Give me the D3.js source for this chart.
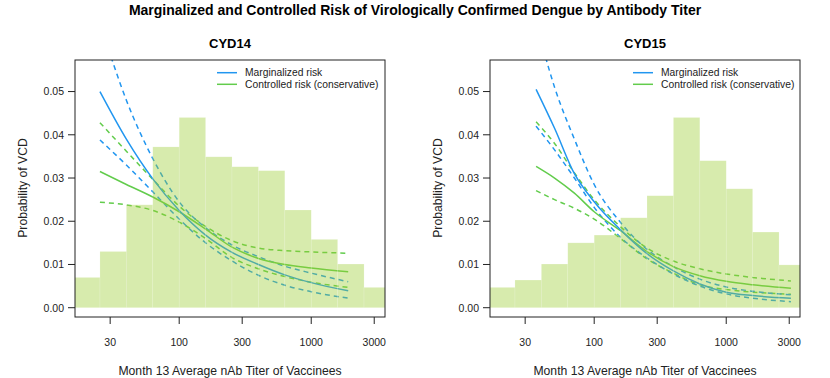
<!DOCTYPE html>
<head>
    <style>
        body { margin: 0; background: #fff; }
        svg { font-family: "Liberation Sans", Arial, sans-serif; }
    </style>
</head>
<body>
    <script src="https://cdn.jsdelivr.net/npm/d3@7"></script>
    <script>
        const w = 830, h = 378;

        // histogram bins (log10 titer edges) and scaled heights
        const binEdgesLog10 = [1.2, 1.4, 1.6, 1.8, 2.0, 2.2, 2.4, 2.6, 2.8, 3.0, 3.2, 3.4, 3.6];
        const histCYD14 = [0.0070, 0.0130, 0.0238, 0.0372, 0.0440, 0.0349, 0.0326, 0.0317, 0.0226, 0.0158, 0.0101, 0.0047];
        const histCYD15 = [0.0047, 0.0064, 0.0101, 0.0150, 0.0168, 0.0208, 0.0259, 0.0440, 0.0340, 0.0275, 0.0175, 0.0099];

        // CYD14 risk curves
        const titerCYD14 = [25.1, 39.8, 63.1, 100, 158.5, 251.2, 398.1, 631, 1000, 1905];
        const margCYD14 = [0.0500, 0.0390, 0.0298, 0.0225, 0.0168, 0.0128, 0.0100, 0.0076, 0.0058, 0.0039];
        const margLoCYD14 = [0.0388, 0.0330, 0.0268, 0.0205, 0.0150, 0.0108, 0.0075, 0.0052, 0.0037, 0.0022];
        const margHiCYD14 = [0.0660, 0.0480, 0.0345, 0.0245, 0.0185, 0.0145, 0.0118, 0.0096, 0.0080, 0.0060];
        const ctrlCYD14 = [0.0315, 0.0285, 0.0256, 0.0222, 0.0182, 0.0140, 0.0114, 0.0100, 0.0092, 0.0083];
        const ctrlLoCYD14 = [0.0244, 0.0238, 0.0225, 0.0198, 0.0160, 0.0116, 0.0090, 0.0072, 0.0059, 0.0047];
        const ctrlHiCYD14 = [0.0428, 0.0362, 0.0297, 0.0235, 0.0188, 0.0155, 0.0138, 0.0132, 0.0129, 0.0126];

        // CYD15 risk curves
        const titerCYD15 = [36.3, 50.1, 70.8, 100, 158.5, 251.2, 398.1, 631, 1000, 1585, 3090];
        const margCYD15 = [0.0505, 0.0415, 0.0310, 0.0245, 0.0180, 0.0125, 0.0085, 0.0055, 0.0036, 0.0028, 0.0022];
        const margLoCYD15 = [0.0420, 0.0365, 0.0300, 0.0232, 0.0163, 0.0115, 0.0078, 0.0050, 0.0032, 0.0022, 0.0014];
        const margHiCYD15 = [0.0660, 0.0510, 0.0390, 0.0285, 0.0197, 0.0135, 0.0095, 0.0066, 0.0048, 0.0038, 0.0030];
        const ctrlCYD15 = [0.0327, 0.0300, 0.0265, 0.0222, 0.0178, 0.0130, 0.0095, 0.0074, 0.0061, 0.0053, 0.0045];
        const ctrlLoCYD15 = [0.0271, 0.0250, 0.0230, 0.0205, 0.0160, 0.0113, 0.0080, 0.0053, 0.0042, 0.0036, 0.0031];
        const ctrlHiCYD15 = [0.0430, 0.0380, 0.0312, 0.0250, 0.0187, 0.0138, 0.0108, 0.0090, 0.0078, 0.0070, 0.0062];

        const xTicks = [30, 100, 300, 1000, 3000];
        const yTicks = [0, 0.01, 0.02, 0.03, 0.04, 0.05];
        const legendLabels = ['Marginalized risk', 'Controlled risk (conservative)'];

        const blue = '#2196f0', green = '#62cc4c';

        const svg = d3.select('body').append('svg')
            .attr('width', w).attr('height', h);

        svg.append('text')
            .attr('x', 415).attr('y', 15)
            .attr('text-anchor', 'middle')
            .style('font-size', '14px').style('font-weight', 'bold')
            .text('Marginalized and Controlled Risk of Virologically Confirmed Dengue by Antibody Titer');

        const panels = [
            { name: 'CYD14', left: 75, hist: histCYD14, titer: titerCYD14,
              lines: [ [ctrlLoCYD14, green, true], [ctrlHiCYD14, green, true], [margLoCYD14, blue, true], [margHiCYD14, blue, true],
                       [ctrlCYD14, green, false], [margCYD14, blue, false] ] },
            { name: 'CYD15', left: 490, hist: histCYD15, titer: titerCYD15,
              lines: [ [ctrlLoCYD15, green, true], [ctrlHiCYD15, green, true], [margLoCYD15, blue, true], [margHiCYD15, blue, true],
                       [ctrlCYD15, green, false], [margCYD15, blue, false] ] }
        ];

        const plotTop = 60, plotBottom = 317, pw = 310;

        panels.forEach((p, pi) => {
            const x = d3.scaleLog().domain([16.25, 3620]).range([p.left, p.left + pw]);
            const y = d3.scaleLinear().domain([-0.00215, 0.0573]).range([plotBottom, plotTop]);
            const g = svg.append('g');

            const clipId = 'clip' + pi;
            g.append('clipPath').attr('id', clipId)
             .append('rect')
             .attr('x', p.left).attr('y', plotTop)
             .attr('width', pw).attr('height', plotBottom - plotTop);

            const plot = g.append('g').attr('clip-path', `url(#${clipId})`);

            const line = d3.line()
                .x((d, i) => x(p.titer[i]))
                .y(d => y(d))
                .curve(d3.curveMonotoneX);

            plot.selectAll('path.risk')
                .data(p.lines)
                .enter().append('path')
                .attr('class', 'risk')
                .attr('d', d => line(d[0]))
                .attr('fill', 'none')
                .attr('stroke', d => d[1])
                .attr('stroke-width', 1.5)
                .attr('stroke-dasharray', d => d[2] ? '5,4' : null);

            // histogram drawn over the lines, semi transparent
            plot.selectAll('rect.bin')
                .data(p.hist)
                .enter().append('rect')
                .attr('class', 'bin')
                .attr('x', (d, i) => x(Math.pow(10, binEdgesLog10[i])))
                .attr('width', (d, i) => x(Math.pow(10, binEdgesLog10[i + 1])) - x(Math.pow(10, binEdgesLog10[i])))
                .attr('y', d => y(d))
                .attr('height', d => y(0) - y(d))
                .attr('fill', 'rgba(154,205,50,0.4)')
                .attr('stroke', 'rgba(255,255,255,0.25)')
                .attr('stroke-width', 0.6);

            // frame
            g.append('rect')
                .attr('x', p.left).attr('y', plotTop)
                .attr('width', pw).attr('height', plotBottom - plotTop)
                .attr('fill', 'none').attr('stroke', '#222').attr('stroke-width', 1);

            // y axis
            const yAxis = g.append('g');
            yTicks.forEach(t => {
                yAxis.append('line')
                    .attr('x1', p.left - 7).attr('x2', p.left)
                    .attr('y1', y(t)).attr('y2', y(t))
                    .attr('stroke', '#222');
                yAxis.append('text')
                    .attr('x', p.left - 11).attr('y', y(t) + 3.8)
                    .attr('text-anchor', 'end')
                    .style('font-size', '10.5px').attr('fill', '#222')
                    .text(d3.format('.2f')(t));
            });

            // x axis
            const xAxis = g.append('g');
            xTicks.forEach(t => {
                xAxis.append('line')
                    .attr('x1', x(t)).attr('x2', x(t))
                    .attr('y1', plotBottom).attr('y2', plotBottom + 7)
                    .attr('stroke', '#222');
                xAxis.append('text')
                    .attr('x', x(t)).attr('y', plotBottom + 29)
                    .attr('text-anchor', 'middle')
                    .style('font-size', '10.5px').attr('fill', '#222')
                    .text(t);
            });

            g.append('text')
                .attr('x', p.left + pw / 2).attr('y', 375)
                .attr('text-anchor', 'middle')
                .style('font-size', '12.2px').attr('fill', '#222')
                .text('Month 13 Average nAb Titer of Vaccinees');

            g.append('text')
                .attr('transform', `translate(${p.left - 48},188) rotate(-90)`)
                .attr('text-anchor', 'middle')
                .style('font-size', '12.2px').attr('fill', '#222')
                .text('Probability of VCD');

            g.append('text')
                .attr('x', p.left + pw / 2).attr('y', 48)
                .attr('text-anchor', 'middle')
                .style('font-size', '13px').style('font-weight', 'bold')
                .text(p.name);

            // legend
            const lx = p.left + (pi === 0 ? 142 : 143);
            legendLabels.forEach((lab, i) => {
                const ly = 72.7 + i * 11.6;
                g.append('line')
                    .attr('x1', lx).attr('x2', lx + 20)
                    .attr('y1', ly).attr('y2', ly)
                    .attr('stroke', i === 0 ? blue : green)
                    .attr('stroke-width', 1.5);
                g.append('text')
                    .attr('x', lx + 28).attr('y', ly + 3.7)
                    .style('font-size', '10.3px').attr('fill', '#222')
                    .text(lab);
            });
        });
    </script>
</body>
